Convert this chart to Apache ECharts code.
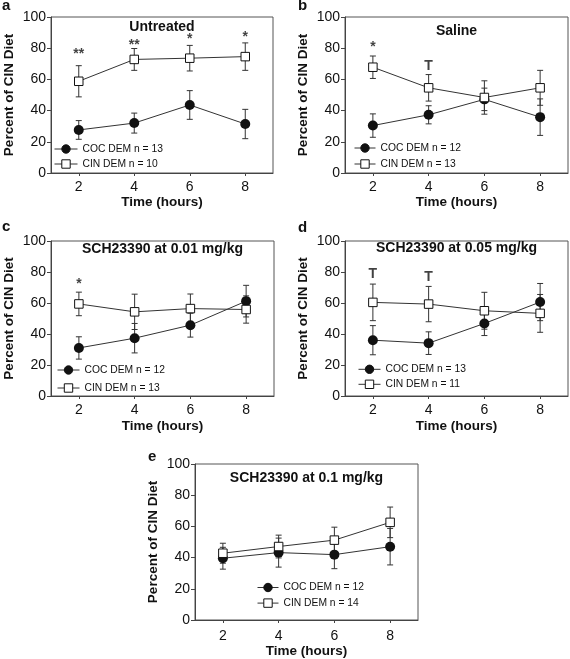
<!DOCTYPE html>
<html><head><meta charset="utf-8">
<script src="https://cdn.jsdelivr.net/npm/echarts@6/dist/echarts.min.js"></script>
<style>html,body{margin:0;padding:0;background:#fff}#c{width:570px;height:659px}</style>
</head><body><div id="c"></div>
<script>
// ---------- data ----------
const hours = [2, 4, 6, 8];
const xTickValues = [2, 4, 6, 8];
const yMin = 0, yMax = 100, yStep = 20;
const panelLetters = ['a', 'b', 'c', 'd', 'e'];
const panelTitles = ['Untreated', 'Saline', 'SCH23390 at 0.01 mg/kg', 'SCH23390 at 0.05 mg/kg', 'SCH23390 at 0.1 mg/kg'];
const cocNames = ['COC DEM n = 13', 'COC DEM n = 12', 'COC DEM n = 12', 'COC DEM n = 13', 'COC DEM n = 12'];
const cinNames = ['CIN DEM n = 10', 'CIN DEM n = 13', 'CIN DEM n = 13', 'CIN DEM n = 11', 'CIN DEM n = 14'];
const xName = 'Time (hours)';
const yName = 'Percent of CIN Diet';

// panel a: Untreated
const cocA = [27.6, 32.0, 43.6, 31.4];
const cocErrA = [6.0, 6.4, 9.2, 9.4];
const cinA = [58.8, 72.8, 73.6, 74.6];
const cinErrA = [10.0, 7.0, 8.2, 8.8];
const sigA = [[2, '**', 76], [4, '**', 81.8], [6, '*', 85.6], [8, '*', 87.1]];
// panel b: Saline
const cocB = [30.4, 37.3, 47.2, 35.8];
const cocErrB = [7.5, 5.8, 7.2, 11.7];
const cinB = [67.8, 54.6, 48.4, 54.6];
const cinErrB = [7.2, 8.5, 10.7, 11.2];
const sigB = [[2, '*', 80.7], [4, 'T', 68.7]];
// panel c: SCH23390 0.01 mg/kg
const cocC = [31.0, 37.3, 45.7, 61.2];
const cocErrC = [7.2, 9.5, 7.7, 10.2];
const cinC = [59.4, 54.3, 56.4, 55.8];
const cinErrC = [7.6, 11.4, 9.4, 8.8];
const sigC = [[2, '*', 72.1]];
// panel d: SCH23390 0.05 mg/kg
const cocD = [36.0, 34.1, 46.8, 60.6];
const cocErrD = [9.4, 7.3, 7.8, 12.0];
const cinD = [60.4, 59.3, 55.0, 53.3];
const cinErrD = [11.8, 11.4, 11.9, 12.2];
const sigD = [[2, 'T', 78.8], [4, 'T', 76.6]];
// panel e: SCH23390 0.1 mg/kg
const cocE = [39.6, 43.2, 41.9, 47.0];
const cocErrE = [7.0, 9.3, 9.0, 11.7];
const cinE = [42.8, 47.1, 51.2, 62.6];
const cinErrE = [6.4, 7.3, 8.3, 9.8];
const sigE = [];

const cocAll = [cocA, cocB, cocC, cocD, cocE];
const cocErrAll = [cocErrA, cocErrB, cocErrC, cocErrD, cocErrE];
const cinAll = [cinA, cinB, cinC, cinD, cinE];
const cinErrAll = [cinErrA, cinErrB, cinErrC, cinErrD, cinErrE];
const sigAll = [sigA, sigB, sigC, sigD, sigE];

// ---------- layout ----------
const FONT = "'Liberation Sans', Arial, Helvetica, sans-serif";
const INK = '#111';
const LINE = '#333';
const grids = [
  {left: 51, top: 17, width: 222, height: 156},
  {left: 345, top: 17, width: 223, height: 156},
  {left: 51, top: 241, width: 223, height: 155},
  {left: 345, top: 241, width: 223, height: 155},
  {left: 195, top: 464, width: 223, height: 156}
];
const titleTops = [20, 24, 242, 241, 471];
const letterPos = [[2, -2], [298, -2], [2, 219], [298, 220], [148, 449]];
const legendPos = [
  {left: 54, top: 143.5, itemWidth: 23, itemGap: 4},
  {left: 354, top: 142.5, itemWidth: 21, itemGap: 5},
  {left: 57, top: 364.5, itemWidth: 22, itemGap: 7},
  {left: 358, top: 363.8, itemWidth: 22, itemGap: 4},
  {left: 257, top: 582, itemWidth: 21, itemGap: 4.6}
];
const xNameGaps = [22, 22, 23, 23, 19];
const xLabelMargins = [7, 7, 7, 7, 9];

const chart = echarts.init(document.getElementById('c'), null, {renderer: 'canvas'});

function errSeries(i, means, errs) {
  return {
    type: 'custom', xAxisIndex: i, yAxisIndex: i, z: 1, silent: true,
    encode: {x: 0, y: [1, 2]},
    data: hours.map((h, k) => [h, means[k] - errs[k], means[k] + errs[k]]),
    renderItem: function (params, api) {
      const x = api.value(0);
      const lo = api.coord([x, api.value(1)]);
      const hi = api.coord([x, api.value(2)]);
      const w = 3;
      const st = {stroke: LINE, lineWidth: 1};
      return {type: 'group', children: [
        {type: 'line', shape: {x1: lo[0], y1: lo[1], x2: hi[0], y2: hi[1]}, style: st},
        {type: 'line', shape: {x1: lo[0] - w, y1: lo[1], x2: lo[0] + w, y2: lo[1]}, style: st},
        {type: 'line', shape: {x1: hi[0] - w, y1: hi[1], x2: hi[0] + w, y2: hi[1]}, style: st}
      ]};
    }
  };
}

const option = {
  animation: false,
  backgroundColor: '#fff',
  textStyle: {fontFamily: FONT},
  title: [], grid: [], xAxis: [], yAxis: [], legend: [], series: []
};

for (let i = 0; i < 5; i++) {
  const g = grids[i];
  option.grid.push({left: g.left, top: g.top, width: g.width, height: g.height,
    show: true, borderColor: '#555', borderWidth: 1, backgroundColor: 'transparent', containLabel: false});
  option.title.push({text: panelTitles[i], left: g.left + g.width / 2, top: titleTops[i], textAlign: 'center', padding: 0,
    textStyle: {fontFamily: FONT, fontSize: 14, fontWeight: 'bold', color: INK}});
  option.title.push({text: panelLetters[i], left: letterPos[i][0], top: letterPos[i][1], padding: 0,
    textStyle: {fontFamily: FONT, fontSize: 15, fontWeight: 'bold', color: INK}});
  option.xAxis.push({
    type: 'value', gridIndex: i, min: 1, max: 9,
    name: xName, nameLocation: 'middle', nameGap: xNameGaps[i],
    nameTextStyle: {fontFamily: FONT, fontSize: 13.5, fontWeight: 'bold', color: INK},
    axisLine: {show: true, onZero: false, lineStyle: {color: '#444', width: 1}},
    axisTick: {show: true, inside: false, length: 3, customValues: xTickValues, lineStyle: {color: '#444'}},
    axisLabel: {show: true, customValues: xTickValues, margin: xLabelMargins[i], fontFamily: FONT, fontSize: 14, color: INK},
    splitLine: {show: false}
  });
  option.yAxis.push({
    type: 'value', gridIndex: i, min: yMin, max: yMax, interval: yStep,
    name: yName, nameLocation: 'middle', nameGap: 35,
    nameTextStyle: {fontFamily: FONT, fontSize: 13.5, fontWeight: 'bold', color: INK},
    axisLine: {show: true, onZero: false, lineStyle: {color: '#444', width: 1}},
    axisTick: {show: true, inside: false, length: 4, lineStyle: {color: '#444'}},
    axisLabel: {show: true, margin: 5, fontFamily: FONT, fontSize: 14, color: INK},
    splitLine: {show: false}
  });
  const lp = legendPos[i];
  option.legend.push({
    orient: 'vertical', left: lp.left, top: lp.top, padding: 0,
    itemWidth: lp.itemWidth, itemHeight: 10.5, itemGap: lp.itemGap,
    selectedMode: false,
    itemStyle: {borderWidth: 1},
    lineStyle: {width: 1},
    data: [{name: cocNames[i]}, {name: cinNames[i]}],
    textStyle: {fontFamily: FONT, fontSize: 10.3, color: INK, lineHeight: 11}
  });
  option.series.push(errSeries(i, cocAll[i], cocErrAll[i]));
  option.series.push(errSeries(i, cinAll[i], cinErrAll[i]));
  option.series.push({
    type: 'line', name: cocNames[i], xAxisIndex: i, yAxisIndex: i, z: 3,
    data: hours.map((h, k) => [h, cocAll[i][k]]),
    symbol: 'circle', symbolSize: 10, showSymbol: true,
    lineStyle: {color: LINE, width: 1},
    itemStyle: {color: INK, borderColor: INK, borderWidth: 0}
  });
  option.series.push({
    type: 'line', name: cinNames[i], xAxisIndex: i, yAxisIndex: i, z: 3,
    data: hours.map((h, k) => [h, cinAll[i][k]]),
    symbol: 'rect', symbolSize: 8.5, showSymbol: true,
    lineStyle: {color: LINE, width: 1},
    itemStyle: {color: '#fff', borderColor: INK, borderWidth: 1}
  });
  if (sigAll[i].length) {
    option.series.push({
      type: 'scatter', xAxisIndex: i, yAxisIndex: i, z: 4, silent: true,
      symbol: 'circle', symbolSize: 1, itemStyle: {color: 'rgba(0,0,0,0)'},
      data: sigAll[i].map(s => ({value: [s[0], s[2]], name: s[1]})),
      label: {show: true, position: 'inside', formatter: '{b}', fontFamily: FONT,
        fontSize: 14, fontWeight: 'bold', color: INK}
    });
  }
}

chart.setOption(option);
</script>
</body></html>
